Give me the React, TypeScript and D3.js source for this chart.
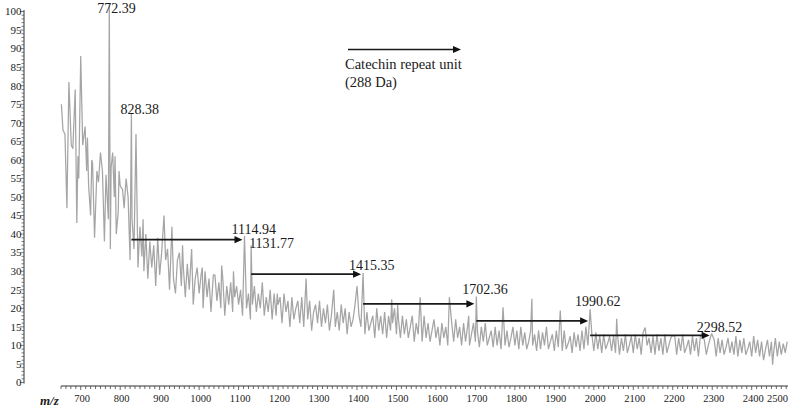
import React from 'react';
import * as d3 from 'd3';

// profile spectrum, every 5 m/z from 650 (one row per 100 m/z)
const mzStart = 650;
const mzStep = 5;
const baseIntensity = [
  58, 44, 61, 47, 52, 41, 63, 49, 43, 55, 60, 46, 42, 57, 53, 45, 59, 39, 48, 54,
  43, 57, 38, 52, 44, 36, 55, 50, 40, 46, 53, 35, 47, 39, 50, 33, 44, 36, 46, 31,
  42, 34, 30, 40, 28, 38, 31, 37, 26, 39, 29, 35, 27, 33, 36, 25, 34, 28, 24, 33,
  35, 26, 31, 23, 32, 25, 30, 21, 28, 31, 24, 29, 20, 30, 23, 28, 19, 24, 29, 22,
  27, 20, 28, 18, 26, 21, 27, 19, 23, 26, 21, 25, 18, 27, 20, 24, 17, 21, 26, 19,
  24, 20, 25, 18, 23, 19, 25, 17, 24, 18, 21, 23, 16, 24, 19, 22, 15, 23, 17, 20,
  22, 16, 23, 15, 21, 17, 22, 14, 19, 21, 16, 22, 15, 20, 16, 21, 14, 18, 22, 15,
  19, 14, 21, 16, 20, 13, 19, 15, 17, 21, 14, 18, 15, 20, 13, 19, 14, 16, 18, 12,
  20, 14, 18, 13, 19, 12, 18, 14, 16, 20, 13, 17, 12, 18, 13, 17, 12, 15, 18, 11,
  16, 13, 17, 11, 18, 12, 16, 11, 14, 17, 12, 15, 10, 16, 12, 15, 10, 13, 16, 11,
  17, 12, 15, 10, 16, 11, 15, 10, 13, 16, 11, 14, 9.5, 15, 11, 16, 10, 12, 14, 9.5,
  15, 10, 14, 9, 15, 10, 14, 9.5, 12, 15, 10, 14, 9, 15, 10, 13.5, 9, 11, 14, 10,
  13, 8.5, 14, 9, 13.5, 10, 15, 9, 11, 13, 8.5, 14, 9.5, 13, 8.5, 14, 9, 10.5, 12.5, 8,
  13.5, 9.5, 13, 8.5, 14, 9, 15, 10, 11, 13, 8.5, 13.5, 9, 12.5, 8, 13, 9, 10.5, 12.5, 8.5,
  12.5, 8, 13, 7.5, 12, 8.5, 13, 8, 10, 12.5, 8, 13, 9, 12, 7.5, 13.5, 8.5, 10, 12, 8,
  12.5, 7.5, 13, 8.5, 12, 7.5, 13, 8, 10, 12, 8.5, 12.5, 7.5, 12, 8.5, 13, 8, 9.5, 11.5, 7.5,
  12.5, 8.5, 12, 7, 12.5, 8, 11.5, 7.5, 10, 12, 8.5, 11.5, 7, 12, 8, 11.5, 7.5, 9.5, 12, 8,
  11, 7.5, 12.5, 7, 11.5, 8, 12, 7.5, 9, 11, 7, 12.5, 8, 11.5, 7, 11, 6, 9, 11.5, 7,
  11, 7.5, 12, 7, 11, 7.5, 10.5, 8, 11,
];

// isolated spikes and dips: [m/z, intensity %]
const spikePeaks: [number, number][] = [
  [651, 75], [655, 68], [660, 67], [670, 81], [676, 64], [686, 79], [693, 61], [700, 88],
  [705, 64], [711, 69], [717, 66], [728, 60], [741, 57], [750, 62], [764, 56],
  [772.39, 102], [777, 58], [781, 62], [787, 61], [797, 57], [806, 52], [815, 55],
  [828.38, 72.5], [840, 67], [858, 44], [911, 45], [931, 42], [958, 37], [981, 36],
  [1008, 31], [1036, 29], [1057, 31.5], [1087, 30], [1114.94, 39.5], [1131.77, 37],
  [1160, 27], [1198, 24], [1271, 28], [1341, 25], [1400, 26], [1415.35, 29.5],
  [1488, 22.4], [1503, 21], [1560, 23], [1634, 23], [1683, 18], [1702.36, 23.2],
  [1770, 20.3], [1843, 22.6], [1915, 19.4], [1990.62, 19.7], [2058, 17.2], [2130, 14.8],
  [2200, 12.7], [2274, 12.7], [2298.52, 13.2], [2453, 4.8],
];

const labelledMz = [772.39, 828.38, 1114.94, 1131.77, 1415.35, 1702.36, 1990.62, 2298.52];
const labelNudge = [[-12, 9], [-11, 0], [-13, -1.5], [-2, 2.5], [-14, -3], [-14, -2], [-15, -3], [-15, -2]];

const repeatArrows = [
  [828.38, 1114.94], [1131.77, 1415.35], [1415.35, 1702.36], [1702.36, 1990.62], [1990.62, 2298.52],
];
const arrowLevels = [38.5, 29.2, 21.2, 16.6, 12.7];

const xTickValues = [700, 800, 900, 1000, 1100, 1200, 1300, 1400, 1500, 1600, 1700, 1800, 1900, 2000, 2100, 2200, 2300, 2400, 2500];
const yTickValues = [0, 5, 10, 15, 20, 25, 30, 35, 40, 45, 50, 55, 60, 65, 70, 75, 80, 85, 90, 95, 100];

const W = 796;
const H = 407;
const serif = '"Liberation Serif", "Times New Roman", serif';

export default function App() {
  const x = d3.scaleLinear().domain([650, 2492]).range([61, 788]);
  const y = d3.scaleLinear().domain([0, 100]).range([382.5, 11.5]);
  const axisY = 386;
  const yAxisX = 24;

  const base = baseIntensity.map((v, i) => [mzStart + i * mzStep, v] as [number, number]);
  const pts = base
    .filter(([m]) => !spikePeaks.some(([s]) => Math.abs(s - m) < 1.5))
    .concat(spikePeaks)
    .sort((a, b) => a[0] - b[0]);
  const line = d3.line<[number, number]>().x((d) => x(d[0])).y((d) => y(d[1]));

  const peakValue = (mz: number) => (spikePeaks.find((p) => p[0] === mz) || [mz, 0])[1];

  const xMinor = d3.range(650, 2492, 12.5);
  const yMinor = d3.range(0, 101, 1);

  const arrowHead = (tx: number, ty: number) =>
    `M${tx},${ty} L${tx - 8},${ty - 3.6} L${tx - 8},${ty + 3.6} Z`;

  return (
    <svg width={W} height={H} style={{ position: 'absolute', left: 0, top: 0, background: '#fff' }}>
      <path d={line(pts) || ''} fill="none" stroke="#a5a5a5" strokeWidth={1.25} strokeLinejoin="bevel" />

      {/* y axis */}
      <line x1={yAxisX} x2={yAxisX} y1={y(100) - 1.5} y2={y(0) + 1} stroke="#333" strokeWidth={1} />
      {yMinor.map((v) => (
        <line key={'ym' + v} x1={yAxisX - (v % 5 === 0 ? 4 : 2.5)} x2={yAxisX} y1={y(v)} y2={y(v)} stroke="#444" strokeWidth={0.7} />
      ))}
      {yTickValues.map((v) => (
        <text key={'yl' + v} x={yAxisX - 2.5} y={y(v) + 3.8} textAnchor="end" fontFamily={serif} fontSize={11} fill="#222">
          {v}
        </text>
      ))}

      {/* x axis */}
      <line x1={x(650)} x2={x(2492)} y1={axisY} y2={axisY} stroke="#333" strokeWidth={1} />
      {xMinor.map((v) => (
        <line key={'xm' + v} x1={x(v)} x2={x(v)} y1={axisY} y2={axisY + (v % 100 === 0 ? 4 : 3)} stroke="#444" strokeWidth={0.8} />
      ))}
      {xTickValues.map((v) => {
        const cx = x(v) + 1.5;
        const overflow = cx + 11 > x(2492);
        return (
          <text key={'xl' + v} x={overflow ? x(2492) : cx} y={axisY + 16} textAnchor={overflow ? 'end' : 'middle'} fontFamily={serif} fontSize={10.5} fill="#222">
            {v}
          </text>
        );
      })}
      <text x={40} y={axisY + 19} fontFamily={serif} fontSize={13} fontStyle="italic" fontWeight="bold" fill="#222">
        m/z
      </text>

      {/* repeat unit arrows */}
      {repeatArrows.map(([a, b], i) => {
        const yy = y(arrowLevels[i]);
        const tip = x(b) - 2;
        return (
          <g key={'ar' + i}>
            <line x1={x(a)} x2={tip - 6} y1={yy} y2={yy} stroke="#1a1a1a" strokeWidth={1.6} />
            <path d={arrowHead(tip, yy)} fill="#111" />
          </g>
        );
      })}

      {/* peak labels */}
      {labelledMz.map((mz, i) => (
        <text
          key={'pl' + mz}
          x={x(mz) + labelNudge[i][0]}
          y={y(peakValue(mz)) + labelNudge[i][1]}
          fontFamily={serif}
          fontSize={14}
          fill="#1a1a1a"
        >
          {mz.toFixed(2)}
        </text>
      ))}

      {/* legend */}
      <line x1={348} x2={454} y1={49.5} y2={49.5} stroke="#1a1a1a" strokeWidth={1.6} />
      <path d={arrowHead(461, 49.5)} fill="#111" />
      <text x={345} y={69} fontFamily={serif} fontSize={14.5} fill="#1a1a1a">
        Catechin repeat unit
      </text>
      <text x={345} y={87} fontFamily={serif} fontSize={14.5} fill="#1a1a1a">
        (288 Da)
      </text>
    </svg>
  );
}
